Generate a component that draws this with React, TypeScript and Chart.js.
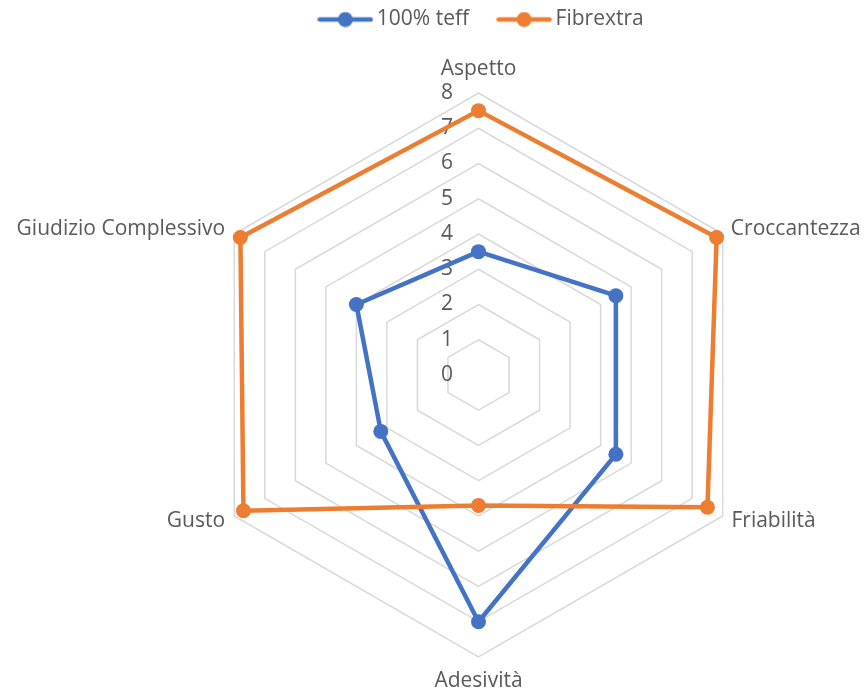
import React, { useEffect, useRef } from 'react';
import { Chart, registerables } from 'chart.js';

Chart.register(...registerables);

const CATEGORIES = ['Aspetto', 'Croccantezza', 'Friabilità', 'Adesività', 'Gusto', 'Giudizio Complessivo'];
const SERIES_NAMES = ['100% teff', 'Fibrextra'];
const TEFF = [3.5, 4.5, 4.5, 7.0, 3.2, 4.0];
const FIBREXTRA = [7.5, 7.8, 7.5, 3.7, 7.7, 7.8];
const TICK_VALUES = [0, 1, 2, 3, 4, 5, 6, 7, 8];

const BLUE = '#4472C4';
const ORANGE = '#ED7D31';
const TEXT = '#595959';
const GRID = '#D9D9D9';
const FONT = "'Open Sans', sans-serif";
const FONT_SIZE = 21;

// plot geometry (pixels)
const CX = 478.5;
const CY = 375;
const RADIUS = 282;
const LABEL_PAD = [11.2, -3.1, -2.4, 11.7, -1.9, -1.9];

function legendMarker(color: string): HTMLCanvasElement {
  const c = document.createElement('canvas');
  c.width = 56;
  c.height = 16;
  const g = c.getContext('2d')!;
  g.strokeStyle = color;
  g.lineWidth = 4.5;
  g.lineCap = 'round';
  g.beginPath();
  g.moveTo(2.5, 8);
  g.lineTo(53.5, 8);
  g.stroke();
  g.fillStyle = color;
  g.beginPath();
  g.arc(28, 8, 7.5, 0, Math.PI * 2);
  g.fill();
  return c;
}

export default function App() {
  const ref = useRef<HTMLCanvasElement>(null);

  useEffect(() => {
    const markers = [legendMarker(BLUE), legendMarker(ORANGE)];
    const chart = new Chart(ref.current!, {
      type: 'radar',
      data: {
        labels: CATEGORIES,
        datasets: [
          {
            label: SERIES_NAMES[0],
            data: TEFF,
            borderColor: BLUE,
            backgroundColor: BLUE,
            borderWidth: 4.5,
            borderJoinStyle: 'round',
            pointRadius: 7.5,
            pointBackgroundColor: BLUE,
            pointBorderColor: BLUE,
            pointBorderWidth: 0,
            fill: false,
            order: 2,
            clip: false,
          } as any,
          {
            label: SERIES_NAMES[1],
            data: FIBREXTRA,
            borderColor: ORANGE,
            backgroundColor: ORANGE,
            borderWidth: 4.5,
            borderJoinStyle: 'round',
            pointRadius: 7.5,
            pointBackgroundColor: ORANGE,
            pointBorderColor: ORANGE,
            pointBorderWidth: 0,
            fill: false,
            order: 1,
            clip: false,
          } as any,
        ],
      },
      options: {
        responsive: true,
        maintainAspectRatio: false,
        animation: false,
        layout: { padding: { left: 104, right: 0, top: -25, bottom: 0 } },
        plugins: {
          tooltip: { enabled: false },
          legend: {
            position: 'top',
            labels: {
              usePointStyle: true,
              pointStyleWidth: 42,
              padding: 34,
              color: TEXT,
              font: { family: FONT, size: FONT_SIZE },
              sort: (a: any, b: any) => a.datasetIndex - b.datasetIndex,
              generateLabels: (ch: any) =>
                (Chart.defaults.plugins.legend.labels.generateLabels as any)(ch).map((it: any) => ({
                  ...it,
                  pointStyle: markers[it.datasetIndex],
                })),
            },
          },
        },
        scales: {
          r: {
            min: 0,
            max: 8,
            angleLines: { display: false },
            grid: {
              color: (ctx: any) => (ctx.tick && ctx.tick.value === 0 ? 'rgba(0,0,0,0)' : GRID),
              lineWidth: 1.5,
            },
            ticks: {
              stepSize: 1,
              color: TEXT,
              font: { family: FONT, size: FONT_SIZE },
              showLabelBackdrop: false,
              callback: (v: any) => `${v}\u2003\u2003\u2003`,
            },
            pointLabels: {
              color: TEXT,
              font: { family: FONT, size: FONT_SIZE, lineHeight: 0 },
              padding: (ctx: any) => LABEL_PAD[ctx.index],
            },
            afterBuildTicks: (s: any) => {
              s.ticks = [{ value: TICK_VALUES[0] }, ...TICK_VALUES.map((v) => ({ value: v }))];
            },
            beforeFit: (s: any) => {
              s._savedBox = { left: s.left, right: s.right, top: s.top, bottom: s.bottom };
              s.left = -10000;
              s.right = 10000;
              s.top = -10000;
              s.bottom = 10000;
              s.xCenter = CX;
              s.yCenter = CY;
              s.drawingArea = RADIUS;
            },
            afterFit: (s: any) => {
              Object.assign(s, s._savedBox);
            },
          } as any,
        },
      },
    });
    return () => chart.destroy();
  }, []);

  return (
    <div style={{ position: 'absolute', left: 0, top: 0, width: 864, height: 693 }}>
      <canvas ref={ref} />
    </div>
  );
}
